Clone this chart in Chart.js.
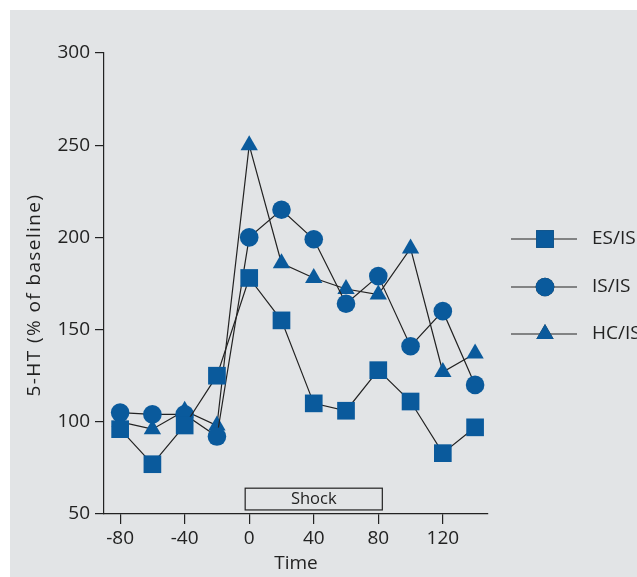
<!DOCTYPE html>
<html>
<head>
<meta charset="utf-8">
<script src="https://cdn.jsdelivr.net/npm/chart.js@4.4.1/dist/chart.umd.min.js"></script>
<style>
  html, body { margin: 0; padding: 0; background: #fff; }
  #wrap { width: 637px; height: 577px; position: relative; }
</style>
</head>
<body>
<div id="wrap"><canvas id="serotoninChart" width="637" height="577"></canvas></div>
<script>
var timePoints = [-80, -60, -40, -20, 0, 20, 40, 60, 80, 100, 120, 140];
var esIs = [96, 77, 98, 125, 178, 155, 110, 106, 128, 111, 83, 97];
var isIs = [105, 104, 104, 92, 200, 215, 199, 164, 179, 141, 160, 120];
var hcIs = [100, 96, 106, 98, 250, 186, 178, 172, 169, 194, 127, 137];
var xTicks = [-80, -40, 0, 40, 80, 120];
var yTicks = [50, 100, 150, 200, 250, 300];
var seriesNames = ['ES/IS', 'IS/IS', 'HC/IS'];

var markerBlue = '#0a5a9c';
var lineDark = '#222222';
var fontFamily = '"Open Sans", "Noto Sans", sans-serif';

function toPoints(values) {
    return timePoints.map(function (t, i) { return {x: t, y: values[i]}; });
}

function makeSet(label, values, style, radius) {
    return {
        label: label,
        data: toPoints(values),
        borderColor: lineDark,
        borderWidth: 1.2,
        backgroundColor: markerBlue,
        pointBackgroundColor: markerBlue,
        pointBorderColor: markerBlue,
        pointBorderWidth: 0,
        pointStyle: style,
        pointRadius: radius,
        pointHoverRadius: radius,
        tension: 0,
        fill: false
    };
}

// gray panel, y title, shock bar and the line+marker legend
var decorations = {
    id: 'decorations',
    beforeDraw: function (chart) {
        var ctx = chart.ctx;
        ctx.save();
        ctx.fillStyle = '#ffffff';
        ctx.fillRect(0, 0, chart.width, chart.height);
        ctx.fillStyle = '#e2e4e6';
        ctx.fillRect(10, 10, chart.width - 10, chart.height - 10);
        ctx.restore();
    },
    afterDraw: function (chart) {
        var ctx = chart.ctx;
        var xs = chart.scales.x, ys = chart.scales.y;
        ctx.save();
        // y axis title, sits a little below the middle of the axis
        ctx.fillStyle = lineDark;
        ctx.font = '19px ' + fontFamily;
        ctx.textAlign = 'center';
        ctx.textBaseline = 'middle';
        ctx.letterSpacing = '1.4px';
        ctx.translate(35, 295);
        ctx.rotate(-Math.PI / 2);
        ctx.fillText('5-HT (% of baseline)', 0, 0);
        ctx.setTransform(1, 0, 0, 1, 0, 0);
        ctx.letterSpacing = '0px';

        // Shock bar
        var x0 = xs.getPixelForValue(-2.5), x1 = xs.getPixelForValue(82.5);
        var y0 = ys.getPixelForValue(64), y1 = ys.getPixelForValue(52.2);
        ctx.strokeStyle = lineDark;
        ctx.lineWidth = 1.2;
        ctx.strokeRect(x0, y0, x1 - x0, y1 - y0);
        ctx.fillStyle = lineDark;
        ctx.font = '16.5px ' + fontFamily;
        ctx.fillText('Shock', (x0 + x1) / 2, (y0 + y1) / 2);

        // legend
        var rows = [239, 287, 334];
        chart.data.datasets.forEach(function (ds, i) {
            var y = rows[i];
            ctx.strokeStyle = lineDark;
            ctx.lineWidth = 1.2;
            ctx.beginPath();
            ctx.moveTo(511, y);
            ctx.lineTo(577, y);
            ctx.stroke();
            Chart.helpers.drawPoint(ctx, {
                pointStyle: ds.pointStyle,
                radius: ds.pointRadius,
                borderWidth: 0,
                rotation: 0
            }, 545, y);
            ctx.fillStyle = markerBlue;
            ctx.fill();
            ctx.fillStyle = lineDark;
            ctx.font = '19px ' + fontFamily;
            ctx.textAlign = 'left';
            ctx.fillText(ds.label, 592, y);
        });
        ctx.restore();
    }
};

var serotoninChart = new Chart(document.getElementById('serotoninChart'), {
    type: 'line',
    data: {
        datasets: [
            makeSet(seriesNames[0], esIs, 'rect', 12.5),
            makeSet(seriesNames[1], isIs, 'circle', 9.3),
            makeSet(seriesNames[2], hcIs, 'triangle', 10)
        ]
    },
    options: {
        responsive: false,
        animation: false,
        layout: {padding: {left: 0, right: 149, top: 53, bottom: 0}},
        plugins: {legend: {display: false}, tooltip: {enabled: false}},
        scales: {
            x: {
                type: 'linear',
                min: -90,
                max: 148,
                afterBuildTicks: function (scale) {
                    scale.ticks = xTicks.map(function (v) { return {value: v}; });
                },
                afterFit: function (scale) { scale.height = 63; },
                grid: {drawOnChartArea: false, color: lineDark, lineWidth: 1.2, tickLength: 10},
                border: {color: lineDark, width: 1.2},
                ticks: {color: lineDark, font: {family: fontFamily, size: 19}, padding: 3, maxRotation: 0},
                title: {display: true, text: 'Time', color: lineDark,
                    font: {family: fontFamily, size: 19}, padding: {top: 0, bottom: 2}}
            },
            y: {
                type: 'linear',
                min: 50,
                max: 300,
                afterBuildTicks: function (scale) {
                    scale.ticks = yTicks.map(function (v) { return {value: v}; });
                },
                afterFit: function (scale) { scale.width = 104; },
                grid: {drawOnChartArea: false, color: lineDark, lineWidth: 1.2, tickLength: 9},
                border: {color: lineDark, width: 1.2},
                ticks: {color: lineDark, font: {family: fontFamily, size: 19}, padding: 5}
            }
        }
    },
    plugins: [decorations]
});
</script>
</body>
</html>
